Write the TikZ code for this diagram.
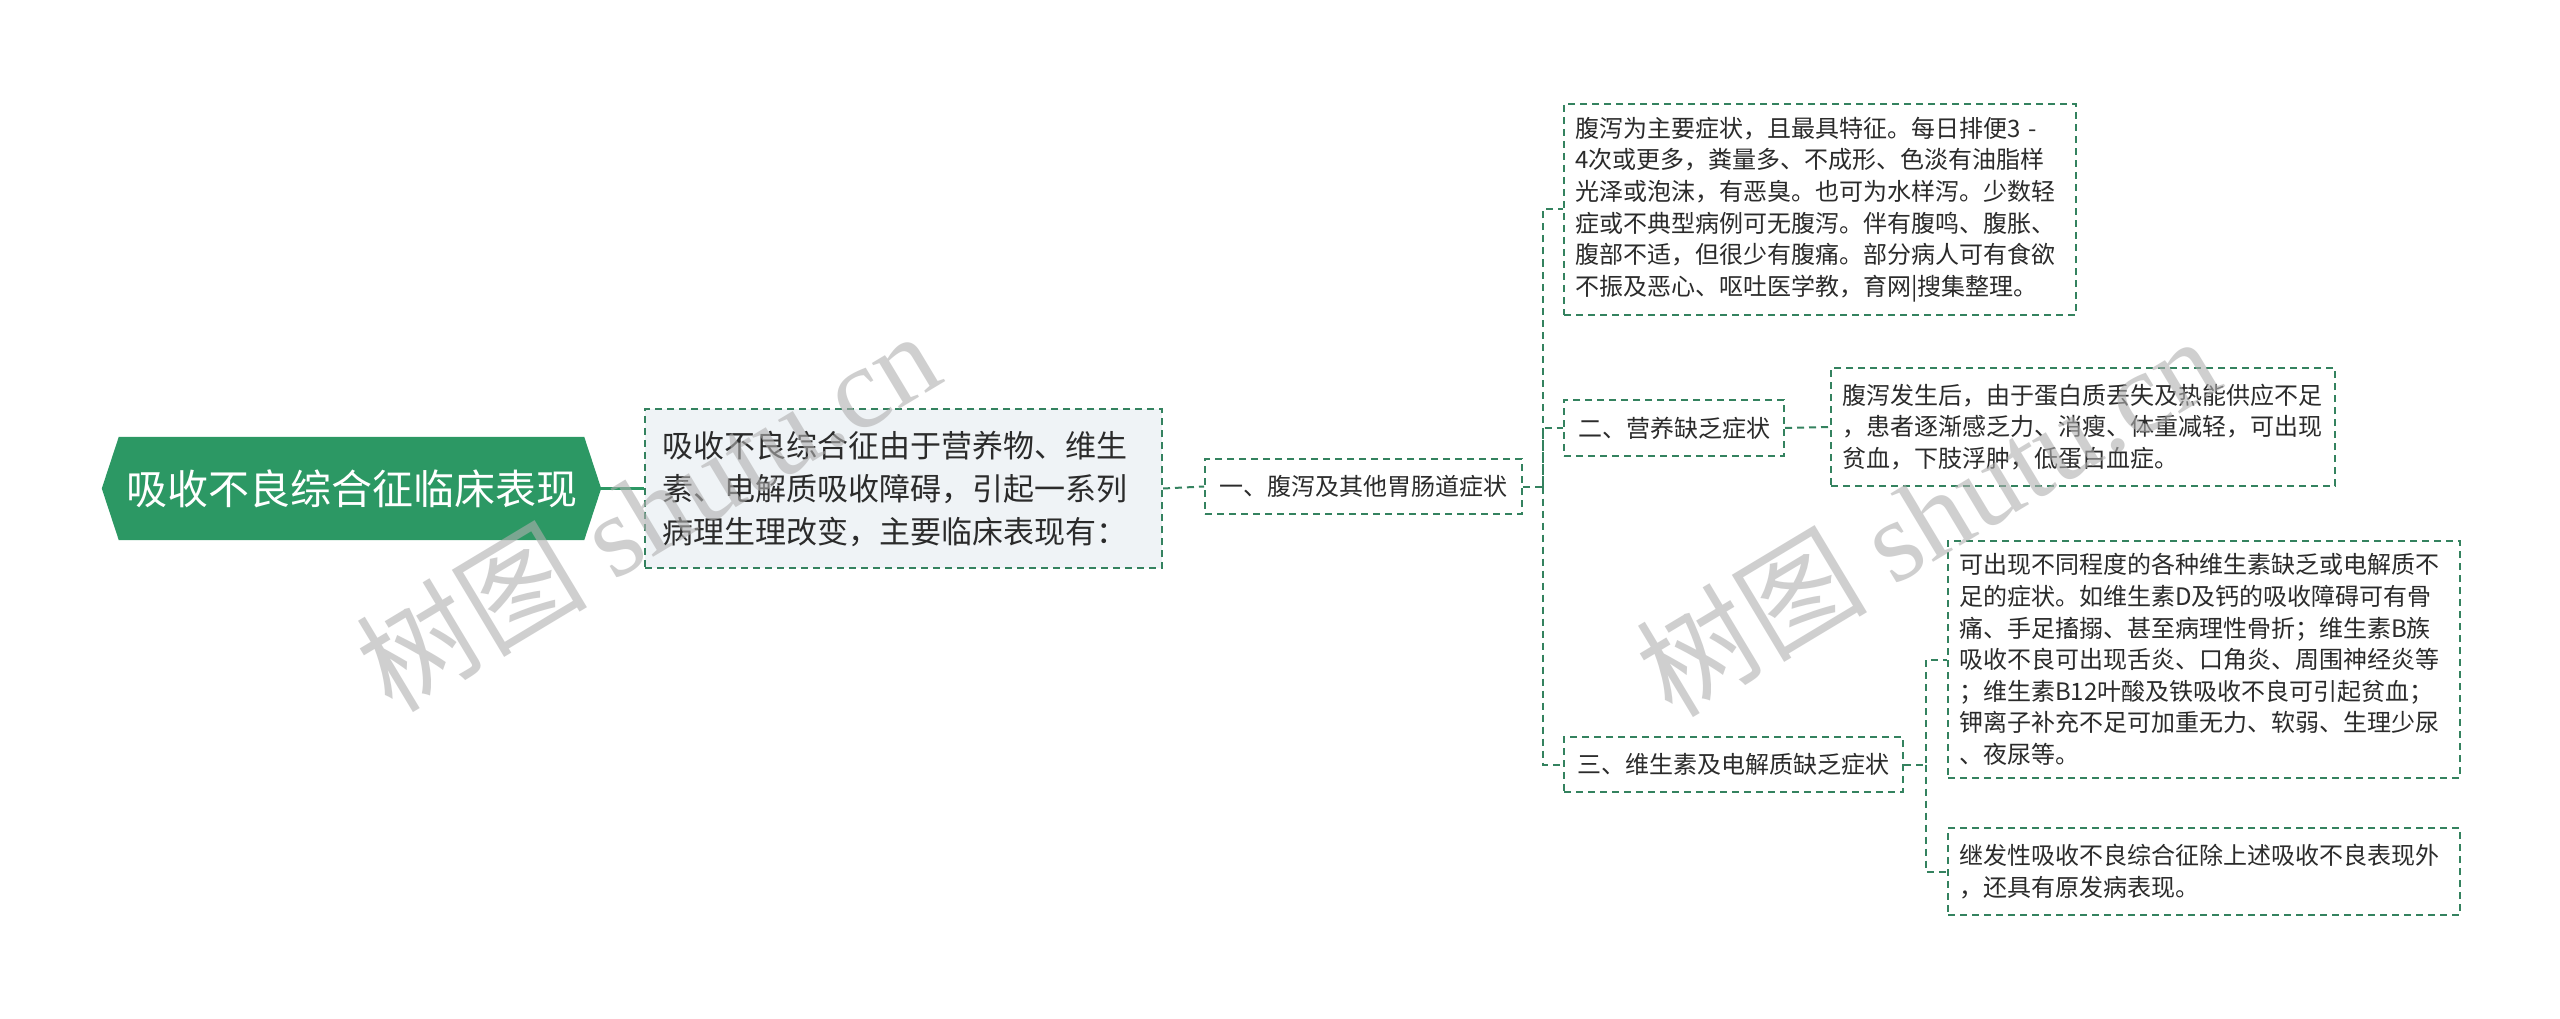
\documentclass[tikz,border=0pt]{standalone}
\usepackage{fontspec}
\setmainfont{Noto Sans CJK SC}
\newfontfamily\wmserif{Liberation Serif}
\usetikzlibrary{backgrounds}
\definecolor{rootg}{HTML}{2C9864}
\definecolor{lineg}{HTML}{34825F}
\definecolor{boxfill}{HTML}{EFF3F6}
\definecolor{txt}{HTML}{2B2B2B}
\definecolor{wmgray}{HTML}{B0B0B0}
\tikzset{
  roottext/.style={rectangle, inner sep=0pt, text=white, font=\fontsize{41}{48}\selectfont, minimum width=499pt, minimum height=103pt},
  dbox/.style={rectangle, draw=lineg, line width=2pt, dash pattern=on 7pt off 5pt, fill=white, text=txt, inner ysep=0pt},
  single/.style={dbox, font=\fontsize{24}{31.6}\selectfont, align=center, inner xsep=0pt},
  multi/.style={dbox, font=\fontsize{24}{31.6}\selectfont, align=left, inner xsep=11pt},
  conn/.style={draw=lineg, line width=2pt, dash pattern=on 7pt off 5pt},
  solidconn/.style={draw=rootg, line width=3pt},
  wm/.style={text=wmgray, text opacity=0.6, font=\fontsize{116}{120}\selectfont, inner sep=0pt}
}
\begin{document}
\begin{tikzpicture}[x=1pt, y=-1pt]
\useasboundingbox (0,0) rectangle (2560,1019);

% root
\node[roottext] (root) at (351.5,488.5) {吸收不良综合征临床表现};
\begin{scope}[on background layer]
\fill[white] (0,0) rectangle (2560,1019);
\fill[rootg] (root.west) -- ([xshift=17pt]root.north west) -- ([xshift=-17pt]root.north east)
  -- (root.east) -- ([xshift=-17pt]root.south east) -- ([xshift=17pt]root.south west) -- cycle;
\end{scope}

% level 1
\node[dbox, fill=boxfill, font=\fontsize{31}{43}\selectfont, align=left, inner xsep=17pt,
      text width=483pt, minimum height=159pt] (intro) at (903.5,488.5)
 {吸收不良综合征由于营养物、维生\\素、电解质吸收障碍，引起一系列\\病理生理改变，主要临床表现有：};

% level 2
\node[single, minimum width=317pt, minimum height=55pt] (s1) at (1363.5,486.5) {一、腹泻及其他胃肠道症状};

% level 3
\node[multi, text width=490pt, minimum height=211pt] (a) at (1820,209.5)
 {腹泻为主要症状，且最具特征。每日排便3 -\\
  4次或更多，粪量多、不成形、色淡有油脂样\\
  光泽或泡沫，有恶臭。也可为水样泻。少数轻\\
  症或不典型病例可无腹泻。伴有腹鸣、腹胀、\\
  腹部不适，但很少有腹痛。部分病人可有食欲\\
  不振及恶心、呕吐医学教，育网|搜集整理。};
\node[single, minimum width=220pt, minimum height=56pt] (s2) at (1674,428) {二、营养缺乏症状};
\node[single, minimum width=339pt, minimum height=55pt] (s3) at (1733.5,764.5) {三、维生素及电解质缺乏症状};

% level 4
\node[multi, text width=482pt, minimum height=118pt] (c) at (2083,427)
 {腹泻发生后，由于蛋白质丢失及热能供应不足\\
  ，患者逐渐感乏力、消瘦、体重减轻，可出现\\
  贫血，下肢浮肿，低蛋白血症。};
\node[multi, text width=490pt, minimum height=237pt] (e) at (2204,659.5)
 {可出现不同程度的各种维生素缺乏或电解质不\\
  足的症状。如维生素D及钙的吸收障碍可有骨\\
  痛、手足搐搦、甚至病理性骨折；维生素B族\\
  吸收不良可出现舌炎、口角炎、周围神经炎等\\
  ；维生素B12叶酸及铁吸收不良可引起贫血；\\
  钾离子补充不足可加重无力、软弱、生理少尿\\
  、夜尿等。};
\node[multi, text width=490pt, minimum height=87pt] (f) at (2204,871.5)
 {继发性吸收不良综合征除上述吸收不良表现外\\
  ，还具有原发病表现。};

% connectors
\coordinate (t1) at (1543,486.5);
\coordinate (t2) at (1926,764.5);
\draw[solidconn] (root.east) -- (intro.west);
\draw[conn] (intro.east) -- (s1.west);
\draw[conn] (s1.east) -- (t1) |- (a.west);
\draw[conn] (t1) |- (s2.west);
\draw[conn] (t1) |- (s3.west);
\draw[conn] (s2.east) -- (c.west);
\draw[conn] (s3.east) -- (t2) |- (e.west);
\draw[conn] (t2) |- (f.west);

% watermarks
\node[wm, rotate=31] (wm1) at (647,510) {树图 {\wmserif shutu.cn}};
\node[wm, rotate=31] (wm2) at (1927,515) {树图 {\wmserif shutu.cn}};
\end{tikzpicture}
\end{document}
